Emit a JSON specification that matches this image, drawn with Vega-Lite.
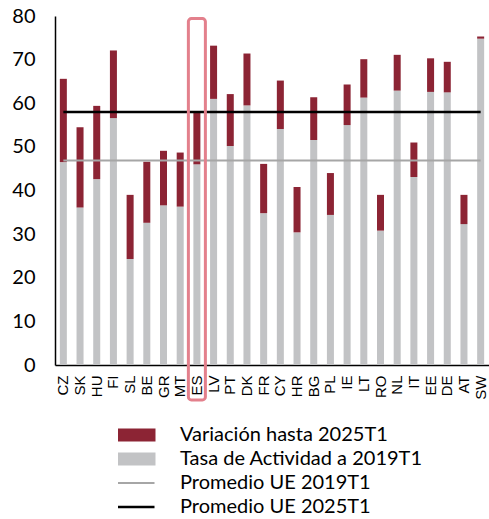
{
  "$schema": "https://vega.github.io/schema/vega-lite/v6.json",
  "width": 434,
  "height": 349,
  "autosize": {"type": "none"},
  "padding": {"left": 55, "top": 16, "right": 0, "bottom": 154},
  "background": "white",
  "config": {"view": {"stroke": null}, "font": "Lato"},
  "data": {"values": [
    {"country": "CZ", "tasa2019": 46.5, "total2025": 65.6, "promedio2019": 46.9, "promedio2025": 58.0},
    {"country": "SK", "tasa2019": 36.1, "total2025": 54.5, "promedio2019": 46.9, "promedio2025": 58.0},
    {"country": "HU", "tasa2019": 42.6, "total2025": 59.4, "promedio2019": 46.9, "promedio2025": 58.0},
    {"country": "FI", "tasa2019": 56.6, "total2025": 72.1, "promedio2019": 46.9, "promedio2025": 58.0},
    {"country": "SL", "tasa2019": 24.3, "total2025": 39.0, "promedio2019": 46.9, "promedio2025": 58.0},
    {"country": "BE", "tasa2019": 32.6, "total2025": 46.6, "promedio2019": 46.9, "promedio2025": 58.0},
    {"country": "GR", "tasa2019": 36.6, "total2025": 49.1, "promedio2019": 46.9, "promedio2025": 58.0},
    {"country": "MT", "tasa2019": 36.3, "total2025": 48.7, "promedio2019": 46.9, "promedio2025": 58.0},
    {"country": "ES", "tasa2019": 46.0, "total2025": 57.9, "promedio2019": 46.9, "promedio2025": 58.0},
    {"country": "LV", "tasa2019": 61.0, "total2025": 73.2, "promedio2019": 46.9, "promedio2025": 58.0},
    {"country": "PT", "tasa2019": 50.2, "total2025": 62.1, "promedio2019": 46.9, "promedio2025": 58.0},
    {"country": "DK", "tasa2019": 59.5, "total2025": 71.4, "promedio2019": 46.9, "promedio2025": 58.0},
    {"country": "FR", "tasa2019": 34.8, "total2025": 46.1, "promedio2019": 46.9, "promedio2025": 58.0},
    {"country": "CY", "tasa2019": 54.1, "total2025": 65.2, "promedio2019": 46.9, "promedio2025": 58.0},
    {"country": "HR", "tasa2019": 30.4, "total2025": 40.8, "promedio2019": 46.9, "promedio2025": 58.0},
    {"country": "BG", "tasa2019": 51.6, "total2025": 61.4, "promedio2019": 46.9, "promedio2025": 58.0},
    {"country": "PL", "tasa2019": 34.4, "total2025": 44.0, "promedio2019": 46.9, "promedio2025": 58.0},
    {"country": "IE", "tasa2019": 55.0, "total2025": 64.3, "promedio2019": 46.9, "promedio2025": 58.0},
    {"country": "LT", "tasa2019": 61.3, "total2025": 70.1, "promedio2019": 46.9, "promedio2025": 58.0},
    {"country": "RO", "tasa2019": 30.8, "total2025": 39.0, "promedio2019": 46.9, "promedio2025": 58.0},
    {"country": "NL", "tasa2019": 62.9, "total2025": 71.1, "promedio2019": 46.9, "promedio2025": 58.0},
    {"country": "IT", "tasa2019": 43.1, "total2025": 51.0, "promedio2019": 46.9, "promedio2025": 58.0},
    {"country": "EE", "tasa2019": 62.6, "total2025": 70.3, "promedio2019": 46.9, "promedio2025": 58.0},
    {"country": "DE", "tasa2019": 62.5, "total2025": 69.5, "promedio2019": 46.9, "promedio2025": 58.0},
    {"country": "AT", "tasa2019": 32.3, "total2025": 39.0, "promedio2019": 46.9, "promedio2025": 58.0},
    {"country": "SW", "tasa2019": 74.8, "total2025": 75.3, "promedio2019": 46.9, "promedio2025": 58.0}
  ]},
  "encoding": {
    "x": {
      "field": "country", "type": "nominal", "sort": null,
      "scale": {"paddingInner": 0.58, "paddingOuter": 0.29},
      "axis": {
        "title": null, "ticks": false, "domainColor": "black", "domainWidth": 1.5,
        "labelAngle": 270, "labelFont": "Liberation Sans", "labelFontSize": 15,
        "labelColor": "black", "labelPadding": 10
      }
    }
  },
  "layer": [
    {
      "mark": {"type": "bar"},
      "encoding": {
        "y": {
          "field": "tasa2019", "type": "quantitative",
          "scale": {"domain": [0, 80], "nice": false},
          "axis": {
            "title": null, "grid": false, "ticks": false, "values": [0, 10, 20, 30, 40, 50, 60, 70, 80],
            "domainColor": "black", "domainWidth": 1.5, "labelFontSize": 20, "labelColor": "black",
            "labelPadding": 20, "labelFont": "Lato"
          }
        },
        "color": {"datum": "Tasa de Actividad a 2019T1"}
      }
    },
    {
      "mark": {"type": "bar"},
      "encoding": {
        "y": {"field": "tasa2019", "type": "quantitative"},
        "y2": {"field": "total2025"},
        "color": {"datum": "Variación hasta 2025T1"}
      }
    },
    {
      "mark": {"type": "line", "strokeWidth": 2},
      "encoding": {
        "y": {"field": "promedio2019", "type": "quantitative"},
        "color": {"datum": "Promedio UE 2019T1"}
      }
    },
    {
      "mark": {"type": "line", "strokeWidth": 2.5},
      "encoding": {
        "y": {"field": "promedio2025", "type": "quantitative"},
        "color": {
          "datum": "Promedio UE 2025T1",
          "scale": {
            "domain": ["Variación hasta 2025T1", "Tasa de Actividad a 2019T1", "Promedio UE 2019T1", "Promedio UE 2025T1"],
            "range": ["#8C2434", "#C2C3C5", "#A6A6A6", "#000000"]
          },
          "legend": {
            "title": null,
            "orient": "none",
            "legendX": 63,
            "legendY": 408,
            "padding": 0,
            "symbolSize": 2809,
            "clipHeight": 22,
            "rowPadding": 2,
            "labelOffset": 42,
            "labelFont": "Lato",
            "labelFontSize": 20,
            "labelColor": "black",
            "labelLimit": 400,
            "encode": {
              "symbols": {
                "update": {
                  "shape": {"signal": "indexof(datum.value, 'Promedio') === 0 ? 'M-1,0H1' : 'M-1,-0.21H1V0.21H-1Z'"},
                  "fill": {"signal": "indexof(datum.value, 'Promedio') === 0 ? 'transparent' : scale('color', datum.value)"},
                  "stroke": {"signal": "indexof(datum.value, 'Promedio') === 0 ? scale('color', datum.value) : 'transparent'"},
                  "strokeWidth": {"signal": "datum.value === 'Promedio UE 2025T1' ? 2.5 : 2"},
                  "size": {"value": 2809},
                  "opacity": {"value": 1},
                  "fillOpacity": {"value": 1},
                  "strokeOpacity": {"value": 1}
                }
              }
            }
          }
        }
      }
    },
    {
      "transform": [{"filter": "datum.country === 'ES'"}],
      "mark": {"type": "bar", "width": 17, "fill": "transparent", "stroke": "#E3808C", "strokeWidth": 3, "cornerRadius": 3, "clip": false},
      "encoding": {
        "y": {"datum": 79.4},
        "y2": {"datum": -8}
      }
    }
  ]
}
